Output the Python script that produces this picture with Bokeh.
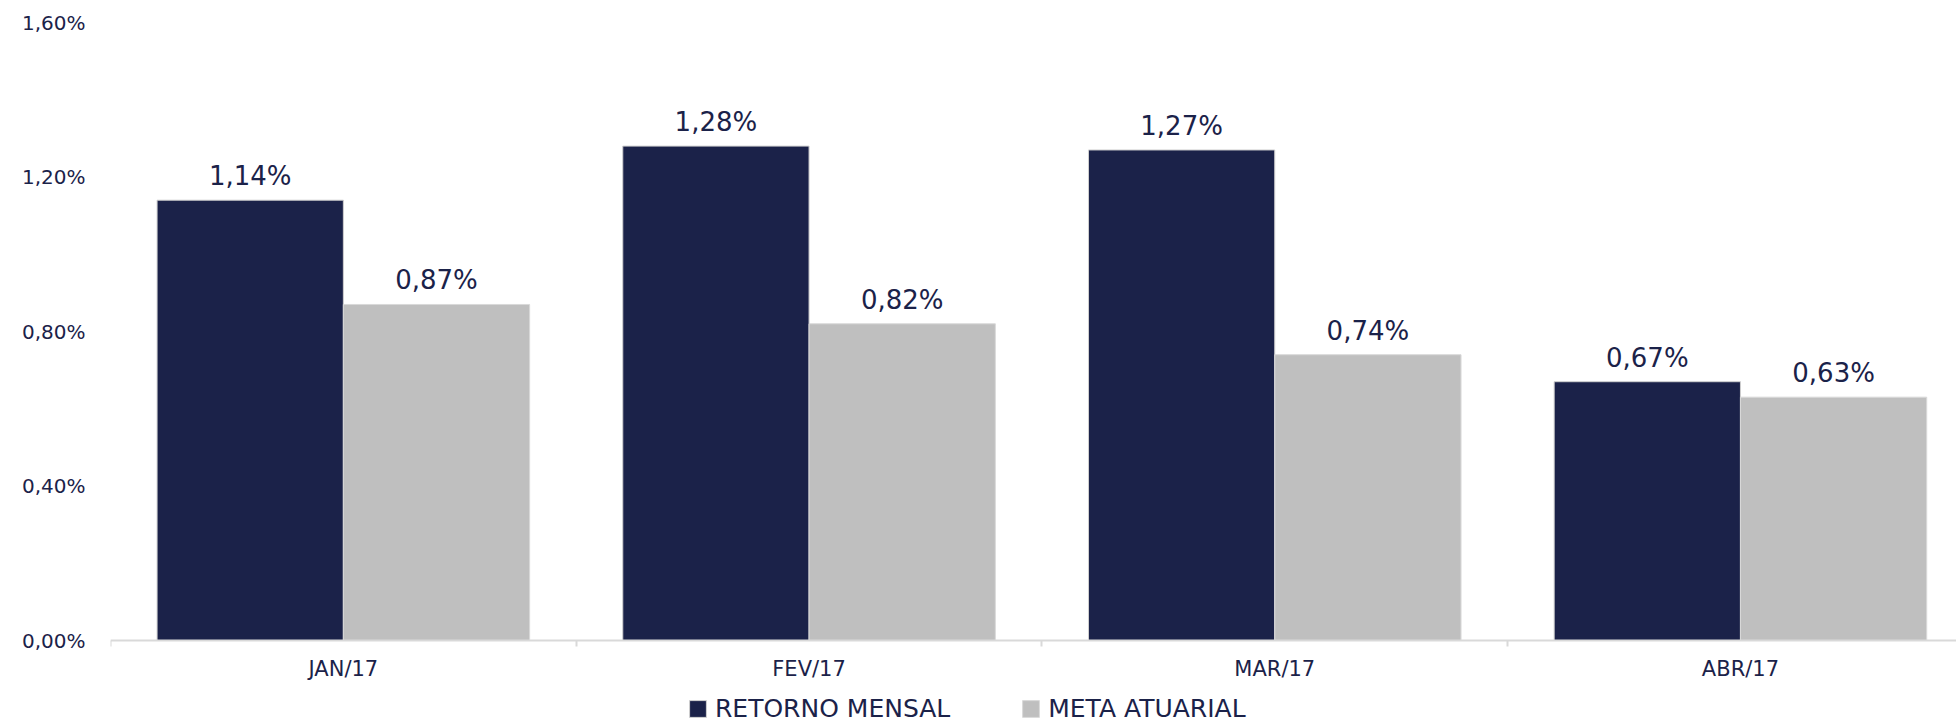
from bokeh.plotting import figure
from bokeh.models import (ColumnDataSource, Range1d, FixedTicker, CustomJSTickFormatter,
                          Legend, LegendItem)
from bokeh.core.properties import value
from bokeh.transform import dodge
from bokeh.embed import file_html
from bokeh.resources import INLINE

categories = ["JAN/17", "FEV/17", "MAR/17", "ABR/17"]
retorno_mensal = [1.14, 1.28, 1.27, 0.67]
meta_atuarial = [0.87, 0.82, 0.74, 0.63]
y_ticks = [0.0, 0.4, 0.8, 1.2, 1.6]
series_names = ["RETORNO MENSAL", "META ATUARIAL"]

NAVY = "#1b2249"
GRAY = "#bfbfbf"
FONT = "DejaVu Sans"

def fmt(v):
    return f"{v:.2f}".replace(".", ",") + "%"

centers = [i + 0.5 for i in range(len(categories))]
src = ColumnDataSource(dict(
    x=centers,
    ret=retorno_mensal,
    meta=meta_atuarial,
    ret_lbl=[fmt(v) for v in retorno_mensal],
    meta_lbl=[fmt(v) for v in meta_atuarial],
))

# frame: top at y=1.6 (22px), y=0 at 640px, frame runs to bottom of canvas (724px)
y_top = 1.6
y_bottom = -y_top * (724 - 640) / (640 - 22)

p = figure(width=1956, height=724, output_backend="svg", toolbar_location=None,
           x_range=Range1d(0, (1956 - 110) / 465.7), y_range=Range1d(y_bottom, y_top),
           min_border_left=110, min_border_right=0, min_border_top=22,
           min_border_bottom=0)
p.outline_line_color = None
p.xgrid.visible = False
p.ygrid.visible = False

r1 = p.vbar(x=dodge("x", -0.2, range=p.x_range), top="ret", width=0.4, bottom=0,
            source=src, fill_color=NAVY, line_color="#d0d0d0", line_width=1)
r2 = p.vbar(x=dodge("x", 0.2, range=p.x_range), top="meta", width=0.4, bottom=0,
            source=src, fill_color=GRAY, line_color="#d9d9d9", line_width=1)

p.text(x=dodge("x", -0.2, range=p.x_range), y="ret", text="ret_lbl", source=src,
       text_align="center", text_baseline="alphabetic", y_offset=-24,
       text_font=value(FONT), text_font_size="26px", text_color=NAVY)
p.text(x=dodge("x", 0.2, range=p.x_range), y="meta", text="meta_lbl", source=src,
       text_align="center", text_baseline="alphabetic", y_offset=-24,
       text_font=value(FONT), text_font_size="26px", text_color=NAVY)

# y axis
p.yaxis.ticker = FixedTicker(ticks=y_ticks)
p.yaxis.formatter = CustomJSTickFormatter(code="return tick.toFixed(2).replace('.', ',') + '%';")
p.yaxis.axis_line_color = None
p.yaxis.major_tick_line_color = None
p.yaxis.minor_tick_line_color = None
p.yaxis.major_label_standoff = 19
p.yaxis.major_label_text_font = FONT
p.yaxis.major_label_text_font_size = "20px"
p.yaxis.major_label_text_color = NAVY

# x axis, drawn at y = 0
p.xaxis.fixed_location = 0
p.xaxis.bounds = (0, 10)
p.xaxis.ticker = FixedTicker(ticks=centers, minor_ticks=list(range(len(categories) + 1)))
p.xaxis.formatter = CustomJSTickFormatter(args=dict(cats=categories),
                                          code="return cats[Math.floor(tick)];")
p.xaxis.axis_line_color = "#d9d9d9"
p.xaxis.axis_line_width = 2
p.xaxis.major_tick_line_color = None
p.xaxis.minor_tick_line_color = "#d9d9d9"
p.xaxis.minor_tick_line_width = 2
p.xaxis.minor_tick_out = 6
p.xaxis.minor_tick_in = 0
p.xaxis.major_tick_out = 0
p.xaxis.major_tick_in = 0
p.xaxis.major_label_standoff = 10
p.xaxis.major_label_text_font = FONT
p.xaxis.major_label_text_font_size = "21px"
p.xaxis.major_label_text_color = NAVY

legend = Legend(items=[LegendItem(label=series_names[0], renderers=[r1]),
                       LegendItem(label=series_names[1], renderers=[r2])],
                orientation="horizontal", location=(577, 1),
                glyph_width=21, glyph_height=21, label_standoff=7, spacing=70,
                label_text_font=FONT, label_text_font_size="25px",
                label_text_color=NAVY, border_line_color=None,
                background_fill_alpha=0, padding=0, margin=0)
p.add_layout(legend, "center")

open("out.html", "w").write(file_html(p, INLINE))
